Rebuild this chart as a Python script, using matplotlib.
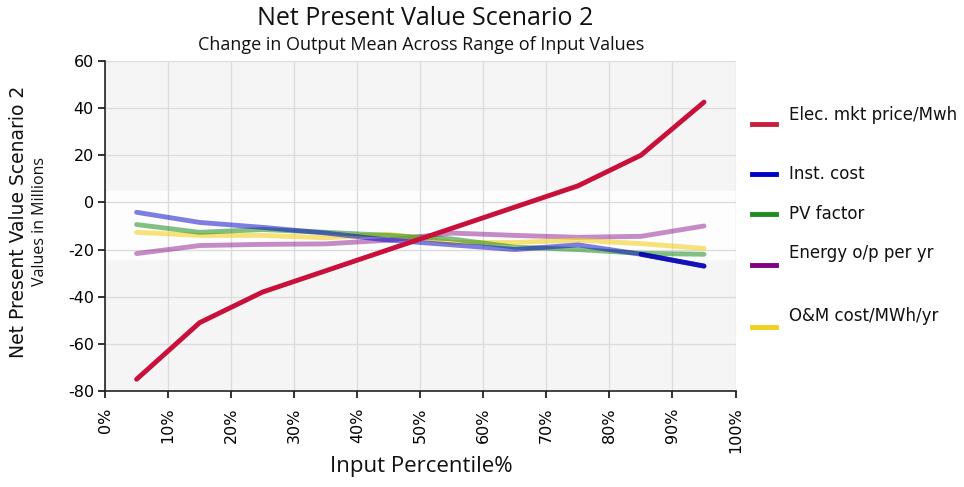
import matplotlib
matplotlib.use("Agg")
import matplotlib.pyplot as plt
from matplotlib.lines import Line2D
import numpy as np

percentiles = [5, 15, 25, 35, 45, 55, 65, 75, 85, 95]
elec_price = [-75, -51, -38, -29, -20, -11, -2, 7, 20, 42.5]
inst_cost = [-4.2, -8.5, -10.6, -13, -16, -18, -20, -18, -22, -27]
pv_factor = [-9.4, -12.7, -11.5, -12.7, -14, -15.5, -19, -20, -21.6, -22]
energy_op = [-21.7, -18.3, -17.8, -17.6, -16, -13, -14, -14.8, -14.4, -10]
om_cost = [-12.7, -14, -14, -15, -13.5, -17, -17, -16, -17.5, -19.5]

series_names = ["Elec. mkt price/Mwh", "Inst. cost", "PV factor",
                "Energy o/p per yr", "O&M cost/MWh/yr"]
x_ticks = list(range(0, 101, 10))
x_ticklabels = [f"{t}%" for t in x_ticks]
y_ticks = list(range(-80, 61, 20))

legend_colors = ["#C8203C", "#0000C8", "#1E8C1E", "#800080", "#F2D020"]

fig = plt.figure(figsize=(9.64, 4.87), dpi=100)
ax = fig.add_axes([0.109, 0.197, 0.654, 0.678])
ax.set_facecolor("#f5f5f5")
ax.axhspan(-24, 5, color="#fdfdfd", zorder=0)

ax.set_xlim(0, 100)
ax.set_ylim(-80, 60)
ax.set_xticks(x_ticks)
ax.set_xticklabels(x_ticklabels, rotation=90, fontsize=11.5, family="DejaVu Sans")
ax.set_yticks(y_ticks)
ax.set_yticklabels([str(t) for t in y_ticks], fontsize=11.5, family="DejaVu Sans")
ax.grid(True, color="#dcdcdc", lw=1)
ax.set_axisbelow(True)
for s in ["top", "right"]:
    ax.spines[s].set_visible(False)
ax.spines["left"].set_color("#222222")
ax.spines["bottom"].set_color("#222222")
ax.spines["left"].set_linewidth(1.2)
ax.spines["bottom"].set_linewidth(1.2)
ax.tick_params(axis="both", length=5, width=1.3, color="#222222")
ax.tick_params(axis="x", pad=7)
ax.tick_params(axis="y", pad=3)

ax.plot(percentiles, energy_op, color="#800080", alpha=0.45, lw=3.5, solid_capstyle="round", zorder=3)
ax.plot(percentiles, om_cost, color="#F2D020", alpha=0.6, lw=3.5, solid_capstyle="round", zorder=3)
ax.plot(percentiles, pv_factor, color="#1E8C1E", alpha=0.55, lw=3.5, solid_capstyle="round", zorder=3)
ax.plot(percentiles, inst_cost, color="#0000C8", alpha=0.5, lw=3.5, solid_capstyle="round", zorder=3)
ax.plot(percentiles[-2:], inst_cost[-2:], color="#0000B0", alpha=0.85, lw=3.5, solid_capstyle="round", zorder=3)
ax.plot(percentiles, elec_price, color="#C8103A", lw=3.5, solid_capstyle="round", zorder=4)

fig.text(0.441, 0.963, "Net Present Value Scenario 2", ha="center", va="center",
         fontsize=18, family="Open Sans", color="#111111")
fig.text(0.437, 0.907, "Change in Output Mean Across Range of Input Values", ha="center",
         va="center", fontsize=13, family="Open Sans", color="#111111")
fig.text(0.437, 0.043, "Input Percentile%", ha="center", va="center",
         fontsize=16, family="Open Sans", color="#111111")
fig.text(0.019, 0.545, "Net Present Value Scenario 2", rotation=90, ha="center",
         va="center", fontsize=13.5, family="DejaVu Sans", color="#111111")
fig.text(0.042, 0.545, "Values in Millions", rotation=90, ha="center",
         va="center", fontsize=11.5, family="Open Sans", color="#111111")

# legend (manual, uneven spacing as in reference)
text_y = [115, 174, 214, 253, 316]
line_y = [124, 174, 214, 265, 327]
H = 487.0
for name, col, ty, ly in zip(series_names, legend_colors, text_y, line_y):
    fig.add_artist(Line2D([752 / 964, 776 / 964], [1 - ly / H, 1 - ly / H],
                          color=col, lw=3.5, transform=fig.transFigure))
    fig.text(789 / 964, 1 - ty / H, name, ha="left", va="center",
             fontsize=12, family="DejaVu Sans", color="#111111")

fig.savefig("out.png", dpi=100)
